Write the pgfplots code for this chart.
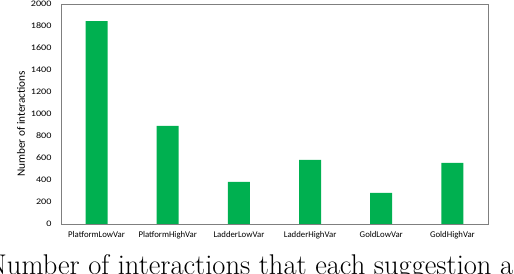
\documentclass[border=0pt]{standalone}
\usepackage{pgfplots}
\pgfplotsset{compat=1.18}
\usepackage{fontspec}
\newfontfamily\calibri{Carlito}
\newfontfamily\calibriwide[FakeStretch=1.2]{Carlito}
\definecolor{xlgreen}{HTML}{00B050}
\definecolor{frame}{HTML}{7F7F7F}
\begin{document}
\begin{tikzpicture}
\useasboundingbox (0,0) rectangle (514bp,274bp);
\begin{axis}[
  at={(61bp,50bp)}, anchor=south west,
  scale only axis, width=427bp, height=220bp,
  xmin=-0.5, xmax=5.5, ymin=0, ymax=2000,
  ytick={0,200,...,2000},
  xtick=data,
  xticklabels={PlatformLowVar,PlatformHighVar,LadderLowVar,LadderHighVar,GoldLowVar,GoldHighVar},
  major tick length=0pt,
  axis line style={frame},
  /pgf/number format/assume math mode=true,
  /pgf/number format/1000 sep={},
  yticklabel style={font=\calibriwide\fontsize{8.5}{9}\selectfont, black, xshift=-6bp},
  xticklabel style={font=\calibri\fontsize{8.8}{9}\selectfont, black, yshift=-4bp},
  ylabel={Number of interactions},
  ylabel style={font=\calibri\fontsize{11.3}{12}\selectfont, at={(ticklabel cs:0.455)}, anchor=south, yshift=-1bp},
]
\addplot[ybar, bar width=22bp, fill=xlgreen, draw=none] coordinates {
  (0,1845) (1,891) (2,382) (3,582) (4,282) (5,555)
};
\end{axis}
\node[anchor=base west, inner sep=0pt, font=\fontsize{28.6}{30}\selectfont] at (-13bp,0bp) {Number of interactions that each suggestion a};
\end{tikzpicture}
\end{document}
